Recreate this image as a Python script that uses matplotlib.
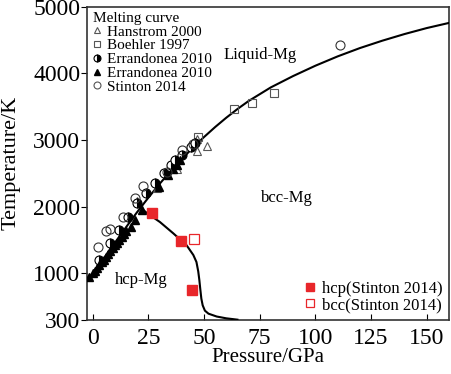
import matplotlib
matplotlib.use("Agg")
import matplotlib.pyplot as plt
from matplotlib.lines import Line2D

plt.rcParams['font.family'] = ['Liberation Serif', 'DejaVu Serif']
plt.rcParams['mathtext.fontset'] = 'stix'

# Melting curve
melt_P = [-2.4, 0, 5, 10, 15, 20, 25, 30, 35, 40, 45, 50, 55, 60, 65, 70, 80, 90,
          100, 110, 120, 130, 140, 150, 161]
melt_T = [905, 985, 1225, 1460, 1692, 1920, 2135, 2340, 2535, 2715, 2885, 3045, 3195,
          3335, 3465, 3585, 3790, 3960, 4115, 4255, 4380, 4490, 4590, 4680, 4765]

# hcp-bcc phase boundary
bnd_P = [21.3, 25, 30.2, 36.2, 42.2, 45.2, 46.6, 47.4, 47.9, 48.3, 48.8, 49.4, 50.4,
         52, 55.7, 60, 65]
bnd_T = [1984, 1890, 1770, 1600, 1420, 1275, 1170, 1030, 900, 770, 620, 520, 440,
         395, 352, 325, 305]

# Hanstrom 2000 (open triangles)
han_P = [19.8, 28.8, 38.0, 46.7, 46.7, 51.2]
han_T = [2083, 2280, 2560, 2840, 3010, 2910]

# Boehler 1997 (open squares)
boe_P = [47.4, 63.6, 71.7, 81.4]
boe_T = [3050, 3473, 3552, 3705]

# Errandonea 2010 (half-filled circles)
err_c_P = [3, 8, 12, 16, 20, 24, 28, 32, 35, 37, 40, 44, 46]
err_c_T = [1200, 1450, 1650, 1850, 2050, 2200, 2350, 2500, 2620, 2700, 2780, 2900, 2953]

# Errandonea 2010 (filled triangles)
err_t_P = [-1.5, 0, 1, 2, 3, 4, 5, 6, 7, 8, 9, 10, 11, 12, 13, 14, 15, 17, 19, 22,
           30, 34, 36, 38, 39]
err_t_T = [950, 1000, 1040, 1080, 1120, 1170, 1200, 1250, 1290, 1330, 1380, 1420, 1460,
           1500, 1540, 1590, 1630, 1700, 1800, 1950, 2300, 2480, 2560, 2620, 2700]

# Stinton 2014 melting (open circles)
sti_P = [2.6, 6.0, 7.8, 13.8, 19.0, 22.8, 33.3, 40.0, 45.2, 111.0]
sti_T = [1394, 1640, 1664, 1851, 2131, 2304, 2525, 2843, 2942, 4430]

# Stinton 2014 phases
hcp_P = [26.5, 39.7, 44.5]
hcp_T = [1910, 1492, 755]
bcc_P = [45.5]
bcc_T = [1516]

xticks = [0, 25, 50, 75, 100, 125, 150]
yticks = [300, 1000, 2000, 3000, 4000, 5000]

fig = plt.figure(figsize=(4.51, 3.74), dpi=100)
ax = fig.add_axes([0.1936, 0.1444, 0.802, 0.8376])

gray = '#555555'
red = '#e8262a'

ax.plot(melt_P, melt_T, color='black', lw=1.5, zorder=3)
ax.plot(bnd_P, bnd_T, color='black', lw=1.5, zorder=3)

ms = 5.5
ax.plot(han_P, han_T, ls='none', marker='^', mfc='none', mec=gray, ms=ms, mew=0.8, zorder=4)
ax.plot(boe_P, boe_T, ls='none', marker='s', mfc='none', mec=gray, ms=ms, mew=0.8, zorder=4)
ax.plot(err_c_P, err_c_T, ls='none', marker='o', fillstyle='right', mfc='black', mfcalt='white',
        mec='black', ms=ms + 1, mew=0.8, zorder=4)
ax.plot(err_t_P, err_t_T, ls='none', marker='^', color='black', ms=ms, zorder=4)
ax.plot(sti_P, sti_T, ls='none', marker='o', mfc='none', mec='#333333', ms=ms + 1, mew=0.8, zorder=4)
ax.plot(hcp_P, hcp_T, ls='none', marker='s', color=red, ms=6.5, zorder=5)
ax.plot(bcc_P, bcc_T, ls='none', marker='s', mfc='white', mec=red, ms=6.5, mew=0.9, zorder=5)

ax.set_xlim(-2.4, 160)
ax.set_ylim(300, 5000)
ax.set_xticks(xticks)
ax.set_yticks(yticks)
ax.tick_params(axis='x', direction='in', length=4, labelsize=17, pad=6)
ax.tick_params(axis='y', direction='out', length=4, labelsize=17, pad=1)
for s in ax.spines.values():
    s.set_color('#333333')
    s.set_linewidth(1.2)
ax.set_xlabel('Pressure/GPa', fontsize=15, labelpad=-1)
ax.set_ylabel('Temperature/K', fontsize=16)
ax.yaxis.set_label_coords(-0.185, 0.5)

ax.text(75.1, 4270, 'Liquid-Mg', fontsize=12, ha='center', va='center')
ax.text(87.1, 2131, 'bcc-Mg', fontsize=12, ha='center', va='center')
ax.text(22, 903, 'hcp-Mg', fontsize=12, ha='center', va='center')

h1 = [
    Line2D([], [], ls='none', marker='^', mfc='none', mec=gray, ms=4.5, mew=0.8),
    Line2D([], [], ls='none', marker='s', mfc='none', mec=gray, ms=4.5, mew=0.8),
    Line2D([], [], ls='none', marker='o', fillstyle='right', mfc='black', mfcalt='white', mec='black', ms=5, mew=0.8),
    Line2D([], [], ls='none', marker='^', color='black', ms=4.5),
    Line2D([], [], ls='none', marker='o', mfc='none', mec=gray, ms=5, mew=0.8),
]
l1 = ['Hanstrom 2000', 'Boehler 1997', 'Errandonea 2010', 'Errandonea 2010', 'Stinton 2014']
leg1 = ax.legend(h1, l1, loc='upper left', title='Melting curve', frameon=False, fontsize=11,
                 title_fontsize=11, handlelength=0.6, handletextpad=0.35, labelspacing=0.0,
                 borderaxespad=0.15, borderpad=0.2)
leg1._legend_box.align = 'left'
ax.add_artist(leg1)

h2 = [
    Line2D([], [], ls='none', marker='s', color=red, ms=5.5),
    Line2D([], [], ls='none', marker='s', mfc='white', mec=red, ms=5.5, mew=0.9),
]
l2 = ['hcp(Stinton 2014)', 'bcc(Stinton 2014)']
ax.legend(h2, l2, loc='lower right', frameon=False, fontsize=12, handlelength=0.6,
          handletextpad=0.4, labelspacing=0.0, borderaxespad=0.2, borderpad=0.2)

fig.savefig('out.png', dpi=100)
